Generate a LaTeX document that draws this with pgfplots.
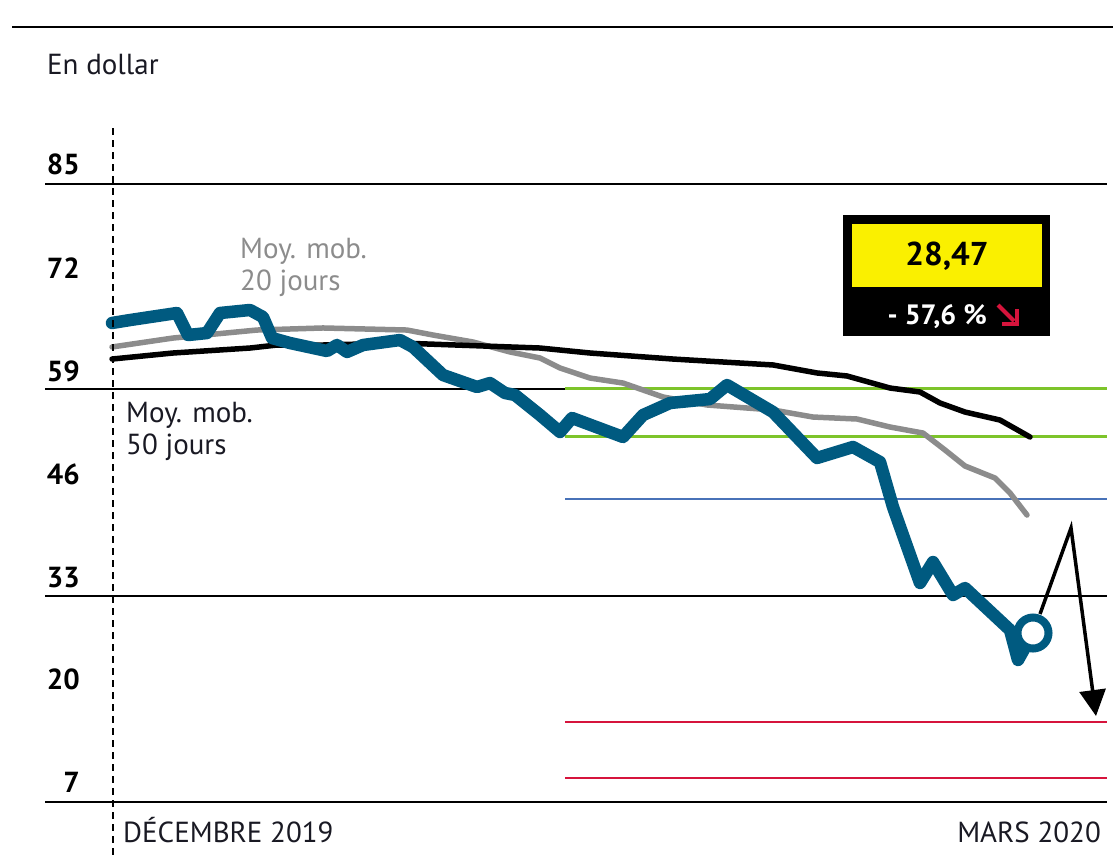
\documentclass[border=0pt]{standalone}
\usepackage{pgfplots}
\pgfplotsset{compat=1.18}
\usepackage{fontspec}
\setmainfont{PT Sans}
\usetikzlibrary{arrows.meta}
\definecolor{brent}{RGB}{0,90,128}
\definecolor{mm20}{RGB}{140,140,140}
\definecolor{lgreen}{RGB}{125,196,42}
\definecolor{hblue}{RGB}{72,114,184}
\definecolor{hred}{RGB}{214,20,60}
\definecolor{ybox}{RGB}{250,240,0}
\definecolor{txt}{RGB}{25,25,35}
\begin{document}
\begin{tikzpicture}
\begin{axis}[at={(45pt,-802pt)}, anchor=south west, scale only axis,
  width=1062pt, height=618pt, xmin=45, xmax=1107, ymin=7, ymax=85,
  axis lines=none, ticks=none, clip=false]
% grid lines
\addplot[black, line width=1.6pt] coordinates {(45,85) (1107,85)};
\addplot[black, line width=1.6pt] coordinates {(45,59.1) (565,59.1)};
\addplot[black, line width=1.6pt] coordinates {(45,33) (1107,33)};
\addplot[black, line width=1.6pt] coordinates {(45,7) (1107,7)};
% levels
\addplot[lgreen, line width=3pt] coordinates {(565,59.13) (1107,59.13)};
\addplot[lgreen, line width=3pt] coordinates {(565,53.19) (1107,53.19)};
\addplot[hblue, line width=2.5pt] coordinates {(565,45.24) (1107,45.24)};
\addplot[hred, line width=2.5pt] coordinates {(565,17.10) (1107,17.10)};
\addplot[hred, line width=2.5pt] coordinates {(565,10.03) (1107,10.03)};
% 20-day moving average
\addplot[mm20, line width=5.5pt, line join=round, line cap=round] coordinates {
(112,64.43) (173,65.56) (257,66.57) (323,66.83) (407,66.57) (433,65.94) (473,65.06)
(510,63.80) (540,63.04) (560,61.78) (590,60.51) (623,59.88) (663,58.12) (707,57.11)
(773,56.48) (813,55.59) (857,55.34) (890,54.33) (923,53.57) (945,51.43) (965,49.41)
(995,47.89) (1010,46.00) (1027,43.22)};
% 50-day moving average
\addplot[black, line width=5.5pt, line join=round, line cap=round] coordinates {
(112,62.91) (173,63.67) (250,64.30) (277,64.68) (323,64.68) (400,64.93) (540,64.30)
(590,63.67) (673,62.91) (773,62.16) (817,61.15) (847,60.77) (890,59.25) (920,58.75)
(940,57.36) (965,56.22) (1000,55.21) (1030,53.07)};
% Brent
\addplot[brent, line width=12.5pt, line join=round, line cap=round] coordinates {
(112,67.46) (130,67.83) (150,68.21) (177,68.72) (188,65.94) (207,66.19) (220,68.72)
(250,69.10) (263,68.21) (272,65.56) (290,64.93) (327,63.92) (337,64.68) (347,63.80)
(363,64.68) (400,65.31) (413,64.43) (443,60.89) (477,59.38) (490,59.88) (505,58.62)
(515,58.37) (540,55.84) (560,53.70) (572,55.47) (623,53.07) (643,55.84) (670,57.36)
(710,57.86) (727,59.63) (773,56.22) (817,50.42) (853,51.81) (880,49.91) (893,44.23)
(920,34.64) (933,37.29) (953,33.13) (965,34.01) (1010,28.71) (1018,24.92) (1033,28.33)};
\addplot[only marks, mark=*, mark size=15.5pt, mark options={draw=brent, fill=white, line width=8pt}] coordinates {(1033,28.33)};
\end{axis}
\begin{scope}[x=1pt,y=-1pt]
\draw[line width=2pt] (12,27)--(1113,27);
\draw[line width=1.5pt, dash pattern=on 7pt off 5pt] (113,128)--(113,857);
\fontsize{29}{32}\selectfont
\node[anchor=base west, inner sep=0, text=txt] at (47,74) {En dollar};
\foreach \v/\b in {85/174,72/278,59/381,46/484,33/587,20/689,7/792}
  \node[anchor=base east, inner sep=0, text=black, font=\bfseries] at (80,\b) {\v};
\node[anchor=base west, inner sep=0, text=mm20] at (240,258) {Moy. mob.};
\node[anchor=base west, inner sep=0, text=mm20] at (240,290) {20 jours};
\node[anchor=base west, inner sep=0, text=txt] at (126,422) {Moy. mob.};
\node[anchor=base west, inner sep=0, text=txt] at (126,454) {50 jours};
\node[anchor=base west, inner sep=0, text=txt] at (123,842) {DÉCEMBRE 2019};
\node[anchor=base east, inner sep=0, text=txt] at (1101,842) {MARS 2020};
% arrow
\draw[line width=3.5pt, line join=miter, -{Triangle[width=26pt,length=26pt]}] (1040,614)--(1071,528)--(1096,716);
% box
\fill[black] (843,215) rectangle (1050,336);
\fill[ybox] (852,224) rectangle (1042,287);
\node[inner sep=0, font=\fontsize{33}{36}\selectfont\bfseries] at (947,256) {28,47};
\node[anchor=base east, inner sep=0, text=white, font=\fontsize{28}{32}\selectfont\bfseries] at (987,324) {- 57,6 \%};
\draw[hred, line width=4pt] (998,305)--(1014,321);
\draw[hred, line width=4.5pt, line join=miter] (1017,309)--(1017,324)--(1002,324);
\end{scope}
\pgfresetboundingbox
\path[use as bounding box] (0pt,0pt) rectangle (1113pt,-857pt);
\end{tikzpicture}
\end{document}
